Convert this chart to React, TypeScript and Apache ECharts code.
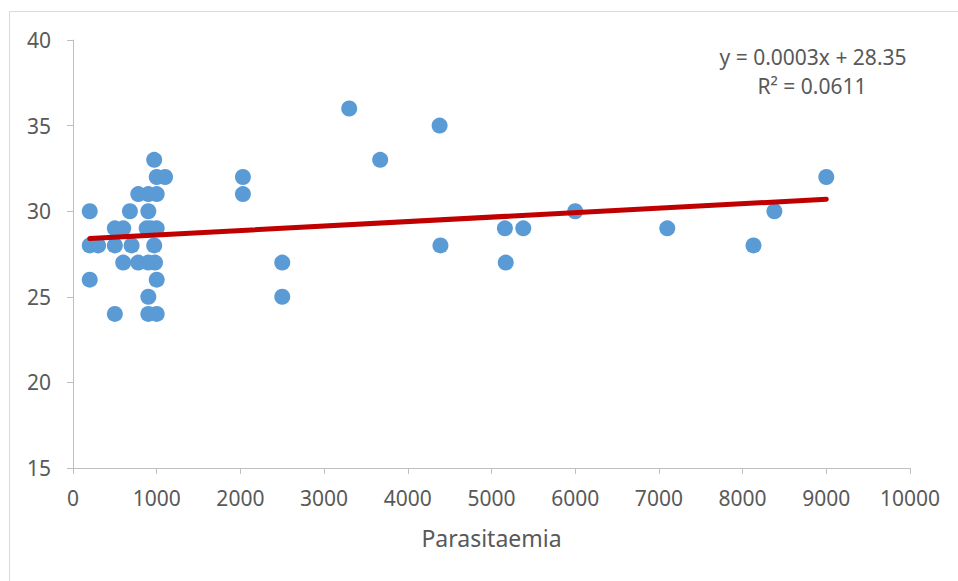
import React, { useEffect, useRef } from "react";
import * as echarts from "echarts";

const parasitaemia: number[] = [
  200, 200, 200, 300, 500, 500, 500, 600, 600, 680, 700, 780, 780, 880,
  900, 900, 900, 900, 900, 930, 970, 970, 980, 1000, 1000, 1000, 1000, 1000, 1100,
  2030, 2030, 2500, 2500, 3300, 3670, 4380, 4390, 5160, 5170, 5380, 6000, 7100,
  8130, 8380, 9000,
];
const values: number[] = [
  30, 28, 26, 28, 29, 28, 24, 29, 27, 30, 28, 31, 27, 29,
  31, 30, 27, 25, 24, 29, 33, 28, 27, 32, 31, 29, 26, 24, 32,
  32, 31, 27, 25, 36, 33, 35, 28, 29, 27, 29, 30, 29,
  28, 30, 32,
];

// Linear trendline endpoints as drawn
const trendX: number[] = [200, 9000];
const trendY: number[] = [28.4, 30.7];

const xTicks = { min: 0, max: 10000, interval: 1000 };
const yTicks = { min: 15, max: 40, interval: 5 };

const equationText = "y = 0.0003x + 28.35";
const r2Text = "R² = 0.0611";
const xAxisTitle = "Parasitaemia";

export default function App() {
  const ref = useRef<HTMLDivElement>(null);
  useEffect(() => {
    document.body.style.margin = "0";
    if (!ref.current) return;
    const chart = echarts.init(ref.current, undefined, { renderer: "svg" });
    const font = "Noto Sans";
    const textColor = "#595959";
    const axisColor = "#BFBFBF";
    chart.setOption({
      animation: false,
      backgroundColor: "#ffffff",
      grid: { left: 73, top: 40, right: 48, bottom: 113, containLabel: false },
      xAxis: {
        type: "value",
        min: xTicks.min,
        max: xTicks.max,
        interval: xTicks.interval,
        name: xAxisTitle,
        nameLocation: "middle",
        nameGap: 58,
        nameTextStyle: { fontFamily: font, fontSize: 23, color: textColor },
        axisLine: { show: true, lineStyle: { color: axisColor, width: 1 } },
        axisTick: { show: true, length: 6, inside: false, lineStyle: { color: axisColor } },
        axisLabel: {
          fontFamily: font,
          fontSize: 21,
          color: textColor,
          margin: 19,
          formatter: (v: number) => String(v),
        },
        splitLine: { show: false },
      },
      yAxis: {
        type: "value",
        min: yTicks.min,
        max: yTicks.max,
        interval: yTicks.interval,
        axisLine: { show: true, lineStyle: { color: axisColor, width: 1 } },
        axisTick: { show: true, length: 6, inside: false, lineStyle: { color: axisColor } },
        axisLabel: { fontFamily: font, fontSize: 21, color: textColor, margin: 22 },
        splitLine: { show: false },
      },
      series: [
        {
          type: "scatter",
          data: parasitaemia.map((x, i) => [x, values[i]]),
          symbol: "circle",
          symbolSize: 16,
          itemStyle: { color: "#5B9BD5", opacity: 1 },
          z: 2,
        },
        {
          type: "line",
          data: trendX.map((x, i) => [x, trendY[i]]),
          symbol: "none",
          lineStyle: { color: "#C00000", width: 5, cap: "round" },
          z: 3,
        },
      ],
      graphic: [
        {
          type: "rect",
          shape: { x: 9.5, y: 11.5, width: 1000, height: 1000 },
          style: { fill: "none", stroke: "#D9D9D9", lineWidth: 1 },
          silent: true,
          z: -1,
        },
        {
          type: "text",
          x: 813,
          y: 57,
          style: {
            text: equationText,
            fontFamily: font,
            fontSize: 21,
            fill: textColor,
            align: "center",
            verticalAlign: "middle",
          },
        },
        {
          type: "text",
          x: 812,
          y: 86,
          style: {
            text: r2Text,
            fontFamily: font,
            fontSize: 21,
            fill: textColor,
            align: "center",
            verticalAlign: "middle",
          },
        },
      ],
    });
    return () => chart.dispose();
  }, []);
  return <div ref={ref} style={{ width: 958, height: 581 }} />;
}
